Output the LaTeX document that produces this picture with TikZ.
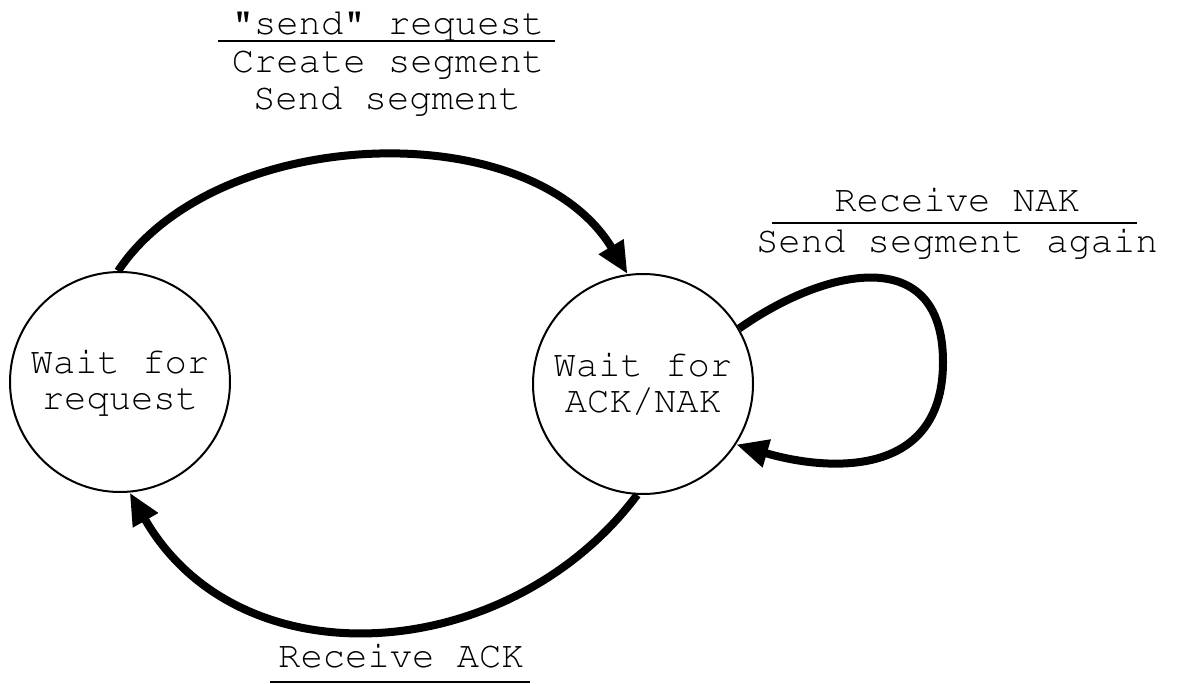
\documentclass[tikz,border=0pt]{standalone}
\usepackage[T1]{fontenc}
\usepackage{courier}
\usetikzlibrary{arrows.meta}

\newcommand{\lblfont}{\ttfamily\fontsize{37.2pt}{36pt}\selectfont}

\begin{document}
\begin{tikzpicture}[x=1pt,y=-1pt,
    state/.style={shape=circle,draw,line width=2pt,minimum size=220pt,
      inner sep=0pt,align=center,font=\lblfont},
    trans/.style={line width=8pt,-{Triangle[length=32pt,width=27pt]}},
    lbl/.style={anchor=base,inner sep=0pt,font=\lblfont},
    rule/.style={line width=2pt}]

      \useasboundingbox (0,0) rectangle (1178,684);

      % states
      \path node (wait) at (120,382) [state] {Wait for\\request};
      \path node (ack) at (643,384) [state] {Wait for\\ACK/NAK};

      % labels
      \path node (sendreq) at (388,35) [lbl] {"send" request};
      \path node (create) at (388,73) [lbl] {Create segment};
      \path node (sendseg) at (387,110) [lbl] {Send segment};
      \draw[rule] (218,41) -- (555,41);

      \path node (rcvnak) at (957,212) [lbl] {Receive NAK};
      \path node (again) at (957,253) [lbl] {Send segment again};
      \draw[rule] (772,223) -- (1137,223);

      \path node (rcvack) at (401,667) [lbl] {Receive ACK};
      \draw[rule] (270,682) -- (530,682);

      % transitions
      \draw[trans] (wait.91)
      .. controls (215,125) and (530,112) .. (ack.98);

      \draw[trans] (ack.-93)
      .. controls (510,665) and (240,685) .. (wait.-85);

      \draw[trans] (ack.30)
      .. controls (825,268) and (943,242) .. (943,362)
      .. controls (943,478) and (830,472) .. (ack.-33);
\end{tikzpicture}
\end{document}
